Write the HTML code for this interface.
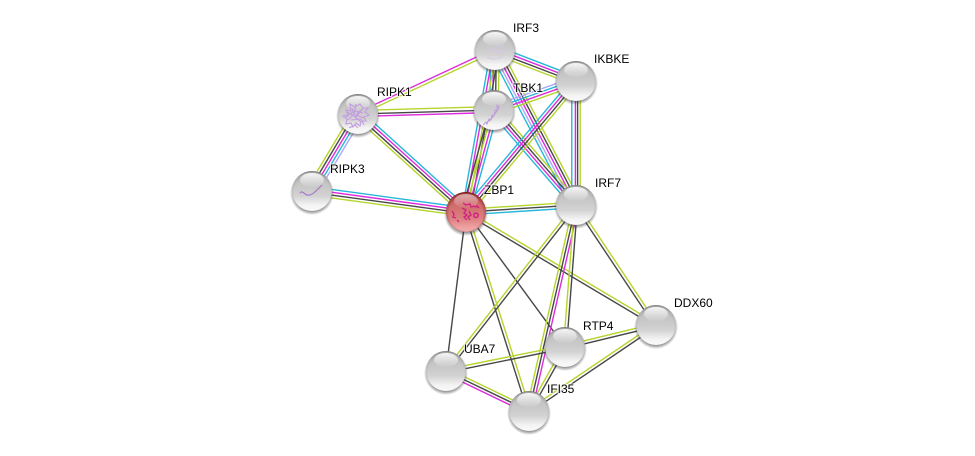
<!DOCTYPE html>
<html><head><meta charset="utf-8"><style>
html,body{margin:0;padding:0;background:#fff}
svg{display:block}
path.c,path.m,path.k,path.y,path.b{fill:none;stroke-width:1.4}
.c{stroke:#27b6da}.m{stroke:#dc2bdc}.k{stroke:#474747}.y{stroke:#b4d52c}.b{stroke:#a9aaf7}
text{font:12px "Liberation Sans",sans-serif;fill:#000;paint-order:stroke;stroke:rgba(255,255,255,.75);stroke-width:2px}
</style></head><body>
<svg width="975" height="456" viewBox="0 0 975 456" xmlns="http://www.w3.org/2000/svg">
<defs>
<linearGradient id="gb" x1="0" y1="0" x2="0" y2="1"><stop offset="0" stop-color="#b4b4b4"/><stop offset=".3" stop-color="#c4c4c4"/><stop offset=".62" stop-color="#d2d2d2"/><stop offset=".86" stop-color="#f4f4f4"/><stop offset="1" stop-color="#fafafa"/></linearGradient>
<linearGradient id="gr" x1="0" y1="0" x2="0" y2="1"><stop offset="0" stop-color="#b84c4c"/><stop offset=".3" stop-color="#cf6a6a"/><stop offset=".65" stop-color="#dc7e7e"/><stop offset=".9" stop-color="#f0a3a3"/><stop offset="1" stop-color="#f2abab"/></linearGradient>
<radialGradient id="rim" cx=".5" cy=".56" r=".56"><stop offset=".8" stop-color="#555" stop-opacity="0"/><stop offset=".93" stop-color="#555" stop-opacity=".15"/><stop offset="1" stop-color="#444" stop-opacity=".6"/></radialGradient>
<radialGradient id="rimr" cx=".5" cy=".54" r=".54"><stop offset=".78" stop-color="#701010" stop-opacity="0"/><stop offset=".93" stop-color="#701010" stop-opacity=".35"/><stop offset="1" stop-color="#5a0808" stop-opacity=".9"/></radialGradient>
<linearGradient id="hl" x1="0" y1="0" x2="0" y2="1"><stop offset="0" stop-color="#fff" stop-opacity=".9"/><stop offset="1" stop-color="#fff" stop-opacity=".05"/></linearGradient>
<radialGradient id="sh" cx=".5" cy=".5" r=".5"><stop offset=".82" stop-color="#333" stop-opacity=".55"/><stop offset="1" stop-color="#333" stop-opacity="0"/></radialGradient>
<g id="ball"><circle r="22" cy="2" fill="url(#sh)"/><circle r="20" fill="url(#gb)"/><circle r="20" fill="url(#rim)"/><ellipse cy="-11" rx="12" ry="7" fill="url(#hl)"/></g>
<g id="rball"><circle r="22" cy="2" fill="url(#sh)"/><circle r="20" fill="url(#gr)"/><circle r="20" fill="url(#rimr)"/><ellipse cy="-11" rx="12" ry="7" fill="url(#hl)" opacity=".6"/></g>
</defs>

<!-- edges -->
<g transform="translate(358 114) rotate(-25.04)"><path class="m" d="M0-1.5H151"/><path class="y" d="M0 1.5H151"/></g>
<g transform="translate(358 114) rotate(-1.68)"><path class="y" d="M0-3.5H136"/><path class="k" d="M0 0H136"/><path class="m" d="M0 2.5H136"/></g>
<g transform="translate(358 114) rotate(42.2)"><path class="c" d="M0-4.2H146"/><path class="m" d="M0-1.4H146"/><path class="k" d="M0 1.4H146"/><path class="y" d="M0 4.2H146"/></g>
<g transform="translate(358 114) rotate(120.85)"><path class="y" d="M0 5.6H90"/><path class="k" d="M0 2.8H90"/><path class="m" d="M0 0H90"/><path class="c" d="M0-2.8H90"/><path class="b" d="M0-5.6H90"/></g>
<g transform="translate(312 191) rotate(7.77)"><path class="c" d="M0-4.2H155"/><path class="m" d="M0-1.4H155"/><path class="k" d="M0 1.4H155"/><path class="y" d="M0 4.2H155"/></g>
<g transform="translate(495 50) rotate(90.95)"><path class="c" d="M0 4.2H60"/><path class="m" d="M0 1.4H60"/><path class="k" d="M0-1.4H60"/><path class="y" d="M0-4.2H60"/></g>
<g transform="translate(495 50) rotate(100.15)"><path class="c" d="M0 4.2H165"/><path class="m" d="M0 1.4H165"/><path class="y" d="M0-1.4H165"/><path class="k" d="M0-4.2H165"/></g>
<g transform="translate(495 50) rotate(20.94)"><path class="c" d="M0-4.2H87"/><path class="m" d="M0-1.4H87"/><path class="k" d="M0 1.4H87"/><path class="y" d="M0 4.2H87"/></g>
<g transform="translate(495 50) rotate(62.4)"><path class="c" d="M0 5.6H175"/><path class="b" d="M0 2.8H175"/><path class="m" d="M0 0H175"/><path class="k" d="M0-2.8H175"/><path class="y" d="M0-5.6H175"/></g>
<g transform="translate(494 110) rotate(-19.48)"><path class="b" d="M0-4.2H87"/><path class="c" d="M0-1.4H87"/><path class="m" d="M0 1.4H87"/><path class="y" d="M0 4.2H87"/></g>
<g transform="translate(494 110) rotate(105.35)"><path class="k" d="M0 4.2H106"/><path class="y" d="M0 1.4H106"/><path class="m" d="M0-1.4H106"/><path class="c" d="M0-4.2H106"/></g>
<g transform="translate(494 110) rotate(49.2)"><path class="c" d="M0 4.2H125"/><path class="m" d="M0 1.4H125"/><path class="k" d="M0-1.4H125"/><path class="y" d="M0-4.2H125"/></g>
<g transform="translate(576 81) rotate(130)"><path class="c" d="M0 4.2H171"/><path class="m" d="M0 1.4H171"/><path class="k" d="M0-1.4H171"/><path class="y" d="M0-4.2H171"/></g>
<g transform="translate(576 81) rotate(90)"><path class="c" d="M0 4.2H124"/><path class="m" d="M0 .6H124"/><path class="k" d="M0-1.6H124"/><path class="y" d="M0-4.2H124"/></g>
<g transform="translate(466 212) rotate(-3.64)"><path class="y" d="M0-2.8H110"/><path class="k" d="M0 0H110"/><path class="c" d="M0 2.8H110"/></g>
<g transform="translate(466 212) rotate(97.2)"><path class="k" d="M0 0H160"/></g>
<g transform="translate(466 212) rotate(72.4)"><path class="k" d="M0 1.5H209"/><path class="y" d="M0-1.5H209"/></g>
<g transform="translate(466 212) rotate(53.75)"><path class="k" d="M0 0H167"/></g>
<g transform="translate(466 212) rotate(30.74)"><path class="y" d="M0-1.5H221"/><path class="k" d="M0 1.5H221"/></g>
<g transform="translate(576 205) rotate(128.06)"><path class="y" d="M0 1.5H211"/><path class="k" d="M0-1.5H211"/></g>
<g transform="translate(576 205) rotate(102.85)"><path class="y" d="M0 2.8H211"/><path class="k" d="M0 0H211"/><path class="m" d="M0-2.8H211"/></g>
<g transform="translate(576 205) rotate(94.43)"><path class="y" d="M0 1.5H142"/><path class="k" d="M0-1.5H142"/></g>
<g transform="translate(576 205) rotate(56.31)"><path class="k" d="M0 1.5H144"/><path class="y" d="M0-1.5H144"/></g>
<g transform="translate(565 347) rotate(-13.6)"><path class="y" d="M0-1.5H94"/><path class="k" d="M0 1.5H94"/></g>
<g transform="translate(565 347) rotate(168.6)"><path class="y" d="M0 1.5H121"/><path class="k" d="M0-1.5H121"/></g>
<g transform="translate(565 347) rotate(119.4)"><path class="y" d="M0 1.5H73"/><path class="k" d="M0-1.5H73"/></g>
<g transform="translate(656 325) rotate(145.9)"><path class="y" d="M0 1.5H153"/><path class="k" d="M0-1.5H153"/></g>
<g transform="translate(446 371) rotate(25.7)"><path class="y" d="M0-2.8H92"/><path class="k" d="M0 0H92"/><path class="m" d="M0 2.8H92"/></g>

<!-- labels under nodes -->
<text x="513" y="32">IRF3</text>
<text x="594" y="63">IKBKE</text>
<text x="513" y="92">TBK1</text>
<text x="377" y="96">RIPK1</text>
<text x="330" y="173">RIPK3</text>
<text x="484" y="194">ZBP1</text>
<text x="595" y="187">IRF7</text>
<text x="674" y="307">DDX60</text>
<text x="583" y="330">RTP4</text>
<text x="464" y="353">UBA7</text>
<text x="547" y="393">IFI35</text>

<!-- nodes -->
<use href="#ball" x="495" y="50"/>
<path d="M487 46c3 5 8 8 13 6s4-5 2-7m-11 2c2 4 6 6 10 3m-8-6c3 1 6 2 8 5m-14 8c4 3 12 3 16-1" fill="none" stroke="#d8c4e6" stroke-width=".8"/>
<use href="#ball" x="576" y="81"/>
<use href="#ball" x="494" y="110"/>
<path d="M483 125l3-3 1 2 2-5 2 1 1-5 2 1 1-6 2 1 0-6 1 0m-11 17c3-1 5-4 7-7s5-5 5-10" fill="none" stroke="#c09ada" stroke-width="1"/>
<use href="#ball" x="358" y="114"/>
<path d="M350 104l5 3 5-3 3 4 5 0-3 4 4 3-5 2 2 4-5 0-1 5-4-3-3 4-2-4-5 1 1-5-4-3 5-1-2-5 5 1zM347 112l9 5 7-9M351 120l10-1 3 6M345 118l9-7 9 2M349 128l6-3 3 3M352 108l3 9 6 5M356 104l-2 10-6 6M361 110l-5 5 8 3" fill="none" stroke="#c39de0" stroke-width="1.1"/>
<use href="#ball" x="312" y="191"/>
<path d="M300 193c2-3 4 1 7 2s7-2 9-4 4-4 6-6" fill="none" stroke="#a877c9" stroke-width="1.2"/>
<use href="#rball" x="466" y="212"/>
<path d="M463 203l3 2 4-1 1 3 3-1M462 208l4 2-2 3 3 2-3 2 3 3M469 211l2 4-3 2 2 3M452 211l2 3-1 3 3 1M473 206l3 1 1-1 2 2M474 214c2-2 5 0 4 2s-4 2-4 0zM457 220l2 2" fill="none" stroke="#cf2480" stroke-width="1.4"/>
<use href="#ball" x="576" y="205"/>
<use href="#ball" x="656" y="325"/>
<use href="#ball" x="565" y="347"/>
<use href="#ball" x="446" y="371"/>
<use href="#ball" x="529" y="411"/>
</svg>
</body></html>
